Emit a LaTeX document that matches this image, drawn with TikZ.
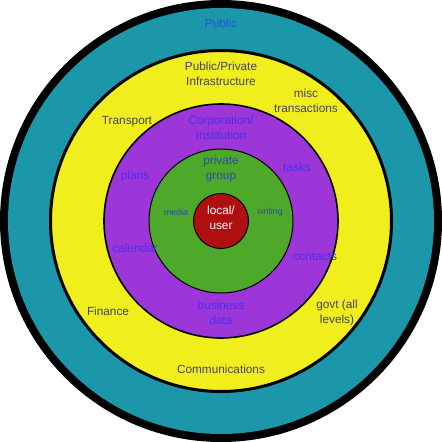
\documentclass[tikz,border=0pt]{standalone}
\usepackage{fontspec}
\setmainfont{Liberation Sans}
\definecolor{tealc}{HTML}{1B97A9}
\definecolor{yellowc}{HTML}{F0EE1C}
\definecolor{purplec}{HTML}{9D36D9}
\definecolor{greenc}{HTML}{4EA82A}
\definecolor{redc}{HTML}{B00F0F}
\definecolor{graytxt}{HTML}{4B4060}
\definecolor{bluetxt}{HTML}{4A2EF0}
\definecolor{pubtxt}{HTML}{2A4FE0}
\definecolor{grntxt}{HTML}{2E4AA8}
\tikzset{
  lbl/.style={font=\fontsize{11.8}{15}\selectfont, align=center, inner sep=0pt},
  ylbl/.style={lbl, text=graytxt},
  plbl/.style={lbl, text=bluetxt},
  glbl/.style={lbl, text=grntxt},
  slbl/.style={font=\fontsize{8.8}{10}\selectfont, text=grntxt, inner sep=0pt},
}
\begin{document}
\begin{tikzpicture}[x=1pt,y=-1pt]
\useasboundingbox (0,0) rectangle (442,442);
\coordinate (c) at (221,221);
\fill[black] (c) circle (221);
\fill[tealc] (c) circle (213);
\draw[fill=yellowc, line width=3pt] (c) circle (170.5);
\draw[fill=purplec, line width=1.6pt] (c) circle (117);
\draw[fill=greenc, line width=1pt] (c) circle (72);
\draw[fill=redc, line width=1pt] (c) circle (27.5);

\node[lbl, text=pubtxt] (public) at (221,23) {Public};
\node[ylbl] (infra) at (221,73.5) {Public/Private\\Infrastructure};
\node[ylbl] (misc) at (306,100.5) {misc\\transactions};
\node[ylbl] (transport) at (127,122) {Transport};
\node[ylbl] (finance) at (108,311) {Finance};
\node[ylbl] (govt) at (337,312.5) {govt (all\\levels)};
\node[ylbl] (comm) at (221,369) {Communications};

\node[plbl] (corp) at (221,127.5) {Corporation/\\Institution};
\node[plbl] (plans) at (135,176) {plans};
\node[plbl] (tasks) at (297,167) {tasks};
\node[plbl] (calendar) at (135,248) {calendar};
\node[plbl] (contacts) at (315,257) {contacts};
\node[plbl] (business) at (221,312.5) {business\\data};

\node[glbl] (private) at (221,169) {private\\group};
\node[slbl] (media) at (176,212) {media};
\node[slbl] (writing) at (270,212) {writing};

\node[lbl, text=white] (local) at (221,217.5) {local/\\user};
\end{tikzpicture}
\end{document}
